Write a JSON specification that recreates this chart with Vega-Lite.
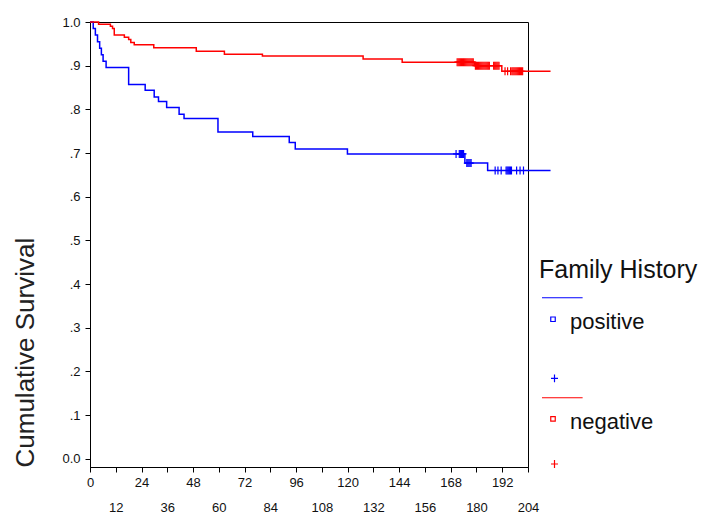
{
  "$schema": "https://vega.github.io/schema/vega-lite/v6.json",
  "width": 438,
  "height": 445,
  "autosize": {"type": "none"},
  "padding": {"left": 90, "top": 22, "right": 175, "bottom": 53},
  "background": "white",
  "config": {
    "font": "Liberation Sans",
    "view": {"stroke": "#000", "strokeWidth": 1},
    "axis": {"domainColor": "#000", "tickColor": "#000", "labelColor": "#111", "grid": false, "labelFontSize": 13, "tickSize": 5, "labelOverlap": false}
  },
  "resolve": {"axis": {"x": "independent"}},
  "datasets": {
    "curves": [
      {"key": "pos_line", "t": 0, "s": 1.0},
      {"key": "pos_line", "t": 1.5, "s": 0.985},
      {"key": "pos_line", "t": 2.5, "s": 0.97},
      {"key": "pos_line", "t": 3.5, "s": 0.955},
      {"key": "pos_line", "t": 4.5, "s": 0.94},
      {"key": "pos_line", "t": 5.3, "s": 0.925},
      {"key": "pos_line", "t": 6.1, "s": 0.91},
      {"key": "pos_line", "t": 7.5, "s": 0.896},
      {"key": "pos_line", "t": 18, "s": 0.857},
      {"key": "pos_line", "t": 25.7, "s": 0.844},
      {"key": "pos_line", "t": 29.9, "s": 0.828},
      {"key": "pos_line", "t": 31.9, "s": 0.818},
      {"key": "pos_line", "t": 35.7, "s": 0.804},
      {"key": "pos_line", "t": 41.5, "s": 0.789},
      {"key": "pos_line", "t": 43.8, "s": 0.779},
      {"key": "pos_line", "t": 59.6, "s": 0.748},
      {"key": "pos_line", "t": 75.8, "s": 0.738},
      {"key": "pos_line", "t": 92.8, "s": 0.724},
      {"key": "pos_line", "t": 95.6, "s": 0.709},
      {"key": "pos_line", "t": 119.9, "s": 0.698},
      {"key": "pos_line", "t": 174.6, "s": 0.677},
      {"key": "pos_line", "t": 185.2, "s": 0.66},
      {"key": "pos_line", "t": 214.5, "s": 0.66},
      {"key": "neg_line", "t": 0, "s": 1.0},
      {"key": "neg_line", "t": 4, "s": 0.995},
      {"key": "neg_line", "t": 9.5, "s": 0.99},
      {"key": "neg_line", "t": 10.5, "s": 0.985},
      {"key": "neg_line", "t": 11.3, "s": 0.97},
      {"key": "neg_line", "t": 16, "s": 0.965},
      {"key": "neg_line", "t": 18, "s": 0.96},
      {"key": "neg_line", "t": 19, "s": 0.953},
      {"key": "neg_line", "t": 20.6, "s": 0.948},
      {"key": "neg_line", "t": 29.7, "s": 0.941},
      {"key": "neg_line", "t": 49.5, "s": 0.933},
      {"key": "neg_line", "t": 62.6, "s": 0.926},
      {"key": "neg_line", "t": 80.3, "s": 0.922},
      {"key": "neg_line", "t": 127.2, "s": 0.915},
      {"key": "neg_line", "t": 145.4, "s": 0.908},
      {"key": "neg_line", "t": 179.1, "s": 0.9},
      {"key": "neg_line", "t": 191.8, "s": 0.887},
      {"key": "neg_line", "t": 214.5, "s": 0.887}
    ],
    "censor": [
      {"key": "pos_plus", "t": 170.5, "s": 0.698},
      {"key": "pos_plus", "t": 172, "s": 0.698},
      {"key": "pos_plus", "t": 172.5, "s": 0.698},
      {"key": "pos_plus", "t": 173, "s": 0.698},
      {"key": "pos_plus", "t": 173.5, "s": 0.698},
      {"key": "pos_plus", "t": 174, "s": 0.698},
      {"key": "pos_plus", "t": 175.5, "s": 0.677},
      {"key": "pos_plus", "t": 176, "s": 0.677},
      {"key": "pos_plus", "t": 176.5, "s": 0.677},
      {"key": "pos_plus", "t": 177, "s": 0.677},
      {"key": "pos_plus", "t": 177.5, "s": 0.677},
      {"key": "pos_plus", "t": 188.7, "s": 0.66},
      {"key": "pos_plus", "t": 190, "s": 0.66},
      {"key": "pos_plus", "t": 191.5, "s": 0.66},
      {"key": "pos_plus", "t": 193.8, "s": 0.66},
      {"key": "pos_plus", "t": 194.3, "s": 0.66},
      {"key": "pos_plus", "t": 194.8, "s": 0.66},
      {"key": "pos_plus", "t": 195.3, "s": 0.66},
      {"key": "pos_plus", "t": 195.8, "s": 0.66},
      {"key": "pos_plus", "t": 196.3, "s": 0.66},
      {"key": "pos_plus", "t": 198.7, "s": 0.66},
      {"key": "pos_plus", "t": 200.3, "s": 0.66},
      {"key": "pos_plus", "t": 201.9, "s": 0.66},
      {"key": "neg_plus", "t": 171, "s": 0.908},
      {"key": "neg_plus", "t": 171.5, "s": 0.908},
      {"key": "neg_plus", "t": 172, "s": 0.908},
      {"key": "neg_plus", "t": 172.5, "s": 0.908},
      {"key": "neg_plus", "t": 173, "s": 0.908},
      {"key": "neg_plus", "t": 173.5, "s": 0.908},
      {"key": "neg_plus", "t": 174, "s": 0.908},
      {"key": "neg_plus", "t": 174.5, "s": 0.908},
      {"key": "neg_plus", "t": 175, "s": 0.908},
      {"key": "neg_plus", "t": 175.5, "s": 0.908},
      {"key": "neg_plus", "t": 176, "s": 0.908},
      {"key": "neg_plus", "t": 176.5, "s": 0.908},
      {"key": "neg_plus", "t": 177, "s": 0.908},
      {"key": "neg_plus", "t": 177.5, "s": 0.908},
      {"key": "neg_plus", "t": 178, "s": 0.908},
      {"key": "neg_plus", "t": 178.5, "s": 0.908},
      {"key": "neg_plus", "t": 179.5, "s": 0.9},
      {"key": "neg_plus", "t": 180, "s": 0.9},
      {"key": "neg_plus", "t": 180.5, "s": 0.9},
      {"key": "neg_plus", "t": 181, "s": 0.9},
      {"key": "neg_plus", "t": 181.5, "s": 0.9},
      {"key": "neg_plus", "t": 182, "s": 0.9},
      {"key": "neg_plus", "t": 182.5, "s": 0.9},
      {"key": "neg_plus", "t": 183, "s": 0.9},
      {"key": "neg_plus", "t": 183.5, "s": 0.9},
      {"key": "neg_plus", "t": 184, "s": 0.9},
      {"key": "neg_plus", "t": 184.5, "s": 0.9},
      {"key": "neg_plus", "t": 185, "s": 0.9},
      {"key": "neg_plus", "t": 185.5, "s": 0.9},
      {"key": "neg_plus", "t": 186, "s": 0.9},
      {"key": "neg_plus", "t": 188, "s": 0.9},
      {"key": "neg_plus", "t": 188.5, "s": 0.9},
      {"key": "neg_plus", "t": 189, "s": 0.9},
      {"key": "neg_plus", "t": 189.5, "s": 0.9},
      {"key": "neg_plus", "t": 190, "s": 0.9},
      {"key": "neg_plus", "t": 190.5, "s": 0.9},
      {"key": "neg_plus", "t": 193.3, "s": 0.887},
      {"key": "neg_plus", "t": 194.5, "s": 0.887},
      {"key": "neg_plus", "t": 195.9, "s": 0.887},
      {"key": "neg_plus", "t": 196.5, "s": 0.887},
      {"key": "neg_plus", "t": 197, "s": 0.887},
      {"key": "neg_plus", "t": 197.5, "s": 0.887},
      {"key": "neg_plus", "t": 198, "s": 0.887},
      {"key": "neg_plus", "t": 198.5, "s": 0.887},
      {"key": "neg_plus", "t": 199, "s": 0.887},
      {"key": "neg_plus", "t": 199.5, "s": 0.887},
      {"key": "neg_plus", "t": 200, "s": 0.887},
      {"key": "neg_plus", "t": 200.5, "s": 0.887},
      {"key": "neg_plus", "t": 201, "s": 0.887},
      {"key": "neg_plus", "t": 201.5, "s": 0.887}
    ],
    "legendKeys": [
      {"key": "pos_line"}, {"key": "positive"}, {"key": "pos_gap"}, {"key": "pos_plus"},
      {"key": "neg_line"}, {"key": "negative"}, {"key": "neg_gap"}, {"key": "neg_plus"}
    ]
  },
  "layer": [
    {
      "data": {"name": "curves"},
      "mark": {"type": "line", "interpolate": "step-after", "strokeWidth": 1.5, "clip": false},
      "encoding": {
        "x": {"field": "t", "type": "quantitative",
          "scale": {"domain": [0, 204], "nice": false, "zero": false},
          "axis": {"title": null, "orient": "bottom", "values": [0, 12, 24, 36, 48, 60, 72, 84, 96, 108, 120, 132, 144, 156, 168, 180, 192, 204],
            "labelExpr": "datum.value % 24 == 0 ? datum.label : ''",
            "labelPadding": 4, "labelFlush": false, "labelOverlap": false, "labelBound": false}},
        "y": {"field": "s", "type": "quantitative",
          "scale": {"domain": [-0.019, 1.0], "nice": false, "zero": false},
          "axis": {"title": "Cumulative Survival", "values": [0, 0.1, 0.2, 0.3, 0.4, 0.5, 0.6, 0.7, 0.8, 0.9, 1.0],
            "labelExpr": "datum.value == 0 ? '0.0' : datum.value == 1 ? '1.0' : replace(format(datum.value, '.1f'), '0.', '.')",
            "labelPadding": 5, "labelOverlap": false, "labelFlush": false, "labelBound": false,
            "titleFontSize": 26, "titleFontWeight": "normal", "titleColor": "#222", "titleAnchor": "start", "titlePadding": 23}},
        "color": {"field": "key", "type": "nominal",
          "scale": {"domain": ["pos_line", "positive", "pos_gap", "pos_plus", "neg_line", "negative", "neg_gap", "neg_plus"],
            "range": ["#0000ff", "#0000ff", "#0000ff", "#0000ff", "#ff0000", "#ff0000", "#ff0000", "#ff0000"]},
          "legend": {"title": "Family History", "orient": "none", "legendX": 449, "legendY": 236, "padding": 0,
            "titleFontSize": 25, "titleFontWeight": "normal", "titleColor": "#111", "titlePadding": 2, "titleLimit": 400,
            "labelFontSize": 22, "labelColor": "#111", "labelOffset": 6, "labelLimit": 300,
            "labelExpr": "datum.label == 'positive' || datum.label == 'negative' ? datum.label : ' '",
            "symbolSize": 36, "symbolStrokeWidth": 1.2, "symbolOpacity": 1, "symbolOffset": 3, "rowPadding": 0, "clipHeight": 24.75}}
      }
    },
    {
      "data": {"name": "censor"},
      "mark": {"type": "point", "shape": "M-0.75,0H0.75M0,-1V1", "size": 64, "filled": false, "strokeWidth": 1.2, "opacity": 1},
      "encoding": {
        "x": {"field": "t", "type": "quantitative", "scale": {"domain": [0, 204], "nice": false, "zero": false},
          "axis": {"title": null, "orient": "bottom", "values": [12, 36, 60, 84, 108, 132, 156, 180, 204],
            "ticks": false, "domain": false, "tickSize": 0, "labelPadding": 34, "labelFlush": false, "labelOverlap": false, "labelBound": false}},
        "y": {"field": "s", "type": "quantitative", "scale": {"domain": [-0.019, 1.0], "nice": false, "zero": false}},
        "color": {"field": "key", "type": "nominal",
          "scale": {"domain": ["pos_line", "positive", "pos_gap", "pos_plus", "neg_line", "negative", "neg_gap", "neg_plus"],
            "range": ["#0000ff", "#0000ff", "#0000ff", "#0000ff", "#ff0000", "#ff0000", "#ff0000", "#ff0000"]}}
      }
    },
    {
      "data": {"name": "legendKeys"},
      "mark": {"type": "point", "filled": false, "opacity": 0, "size": 36},
      "encoding": {
        "color": {"field": "key", "type": "nominal",
          "scale": {"domain": ["pos_line", "positive", "pos_gap", "pos_plus", "neg_line", "negative", "neg_gap", "neg_plus"],
            "range": ["#0000ff", "#0000ff", "#0000ff", "#0000ff", "#ff0000", "#ff0000", "#ff0000", "#ff0000"]},
          "legend": {"title": "Family History", "orient": "none", "legendX": 449, "legendY": 236, "padding": 0,
            "titleFontSize": 25, "titleFontWeight": "normal", "titleColor": "#111", "titlePadding": 2, "titleLimit": 400,
            "labelFontSize": 22, "labelColor": "#111", "labelOffset": 6, "labelLimit": 300,
            "labelExpr": "datum.label == 'positive' || datum.label == 'negative' ? datum.label : ' '",
            "symbolSize": 36, "symbolStrokeWidth": 1.2, "symbolOpacity": 1, "symbolOffset": 3, "rowPadding": 0, "clipHeight": 24.75}},
        "shape": {"field": "key", "type": "nominal",
          "scale": {"domain": ["pos_line", "positive", "pos_gap", "pos_plus", "neg_line", "negative", "neg_gap", "neg_plus"],
            "range": [
              "M-3.67,0M9.87,0M-3.67,0.13H9.87",
              "M-3.67,0M9.87,0M-0.75,-1.8H0.75V-0.3H-0.75Z",
              "M-3.67,0M9.87,0",
              "M-3.67,0M9.87,0M-0.67,2H1.67M0.5,0.67V3.33",
              "M-3.67,0M9.87,0M-3.67,0.13H9.87",
              "M-3.67,0M9.87,0M-0.75,-1.92H0.75V-0.42H-0.75Z",
              "M-3.67,0M9.87,0",
              "M-3.67,0M9.87,0M-0.67,-2.8H1.67M0.5,-4.1V-1.47"
            ]},
          "legend": {"title": "Family History", "orient": "none", "legendX": 449, "legendY": 236, "padding": 0,
            "titleFontSize": 25, "titleFontWeight": "normal", "titleColor": "#111", "titlePadding": 2, "titleLimit": 400,
            "labelFontSize": 22, "labelColor": "#111", "labelOffset": 6, "labelLimit": 300,
            "labelExpr": "datum.label == 'positive' || datum.label == 'negative' ? datum.label : ' '",
            "symbolSize": 36, "symbolStrokeWidth": 1.2, "symbolOpacity": 1, "symbolOffset": 3, "rowPadding": 0, "clipHeight": 24.75}}
      }
    }
  ]
}
